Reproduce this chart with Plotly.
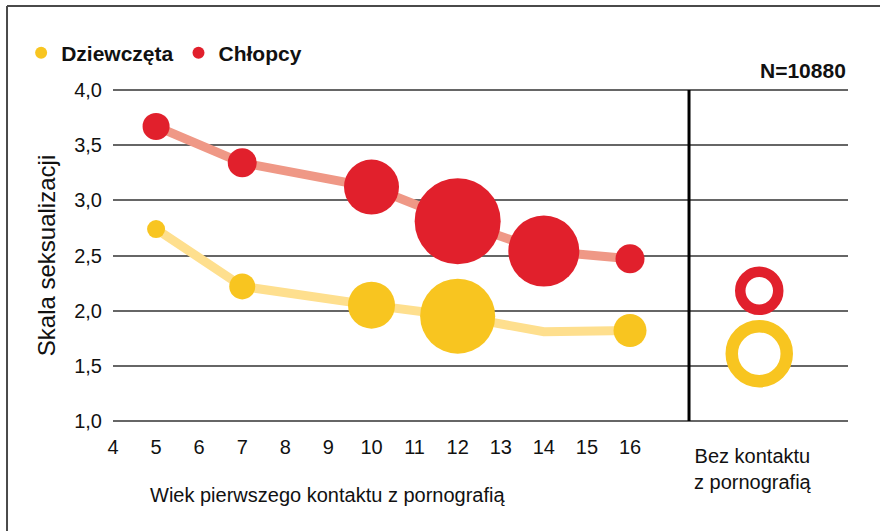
import plotly.graph_objects as go

# Dane
wiek = [5, 7, 10, 12, 14, 16]
dziewczeta = [2.74, 2.22, 2.05, 1.95, 1.81, 1.82]
dziewczeta_n = [18, 26, 47, 75, 0, 33]
chlopcy = [3.67, 3.34, 3.12, 2.81, 2.54, 2.47]
chlopcy_n = [27, 29, 55, 86, 71, 29]

bez_kontaktu_x = [19]
bez_kontaktu_dziewczeta = [1.61]
bez_kontaktu_chlopcy = [2.18]

x_ticks = list(range(4, 17))

FONT = "Liberation Sans, Arial, sans-serif"
YELLOW = "#F8C520"
RED = "#E1202C"
YELLOW_LINE = "#FEDF8E"
RED_LINE = "#EF9886"

fig = go.Figure()

# linie
fig.add_trace(go.Scatter(x=wiek, y=dziewczeta, mode="lines",
                         line=dict(color=YELLOW_LINE, width=9), showlegend=False, hoverinfo="skip"))
fig.add_trace(go.Scatter(x=wiek, y=chlopcy, mode="lines",
                         line=dict(color=RED_LINE, width=9), showlegend=False, hoverinfo="skip"))

# punkty (wielkość = liczebność)
fig.add_trace(go.Scatter(x=wiek, y=dziewczeta, mode="markers",
                         marker=dict(color=YELLOW, size=dziewczeta_n, opacity=1, line=dict(width=0)),
                         showlegend=False))
fig.add_trace(go.Scatter(x=wiek, y=chlopcy, mode="markers",
                         marker=dict(color=RED, size=chlopcy_n, opacity=1, line=dict(width=0)),
                         showlegend=False))

# bez kontaktu z pornografią - puste kółka
fig.add_trace(go.Scatter(x=bez_kontaktu_x, y=bez_kontaktu_dziewczeta, mode="markers",
                         marker=dict(color="white", size=55, opacity=1,
                                     line=dict(color=YELLOW, width=12.5)),
                         showlegend=False))
fig.add_trace(go.Scatter(x=bez_kontaktu_x, y=bez_kontaktu_chlopcy, mode="markers",
                         marker=dict(color="white", size=38, opacity=1,
                                     line=dict(color=RED, width=10.5)),
                         showlegend=False))

# legenda
fig.add_trace(go.Scatter(x=[None], y=[None], mode="markers", name="Dziewczęta",
                         marker=dict(color=YELLOW, size=16)))
fig.add_trace(go.Scatter(x=[None], y=[None], mode="markers", name="Chłopcy",
                         marker=dict(color=RED, size=16)))

fig.update_layout(
    width=880, height=531,
    margin=dict(l=113, r=32, t=88, b=108, autoexpand=False),
    paper_bgcolor="white", plot_bgcolor="white",
    separators=", ",
    font=dict(family=FONT, size=20, color="#111"),
    legend=dict(orientation="h", x=-0.125, y=1.1045, xanchor="left", yanchor="middle",
                font=dict(family=FONT, size=21, color="#111", weight="bold"),
                bgcolor="rgba(0,0,0,0)", itemsizing="constant"),
    xaxis=dict(range=[4, 21.06], tickvals=x_ticks, showgrid=False, zeroline=False,
               showline=False, ticks="", ticklabelstandoff=10),
    yaxis=dict(range=[0.982, 4.018], dtick=0.5, tick0=1, tickformat=".1f", showgrid=True,
               gridcolor="#666", gridwidth=1.5, zeroline=False, showline=False,
               ticks="", ticklabelstandoff=10,
               title=dict(text="Skala seksualizacji", standoff=11)),
    shapes=[
        dict(type="line", xref="x", yref="y", x0=17.37, x1=17.37, y0=1, y1=4,
             line=dict(color="black", width=3)),
        dict(type="line", xref="paper", yref="paper", x0=-0.1442, x1=-0.1442, y0=-0.35, y1=1.2448,
             line=dict(color="#4a4a4a", width=2)),
        dict(type="line", xref="paper", yref="paper", x0=-0.1442, x1=1.05, y0=1.2448, y1=1.2448,
             line=dict(color="#4a4a4a", width=2)),
    ],
    annotations=[
        dict(text="<b>N=10880</b>", xref="paper", yref="paper", x=1, y=1.0537,
             xanchor="right", yanchor="middle", showarrow=False, font=dict(size=21)),
        dict(text="Wiek pierwszego kontaktu z pornografią", xref="x", yref="paper",
             x=8.97, y=-0.215, xanchor="center", yanchor="middle", showarrow=False),
        dict(text="Bez kontaktu<br>z pornografią", xref="x", yref="paper",
             x=18.86, y=-0.137, xanchor="center", yanchor="middle", showarrow=False),
    ],
)

# bez domyślnego marginesu strony
fig.write_html("out.html", config={"displayModeBar": False},
               post_script="document.body.style.margin='0';")
